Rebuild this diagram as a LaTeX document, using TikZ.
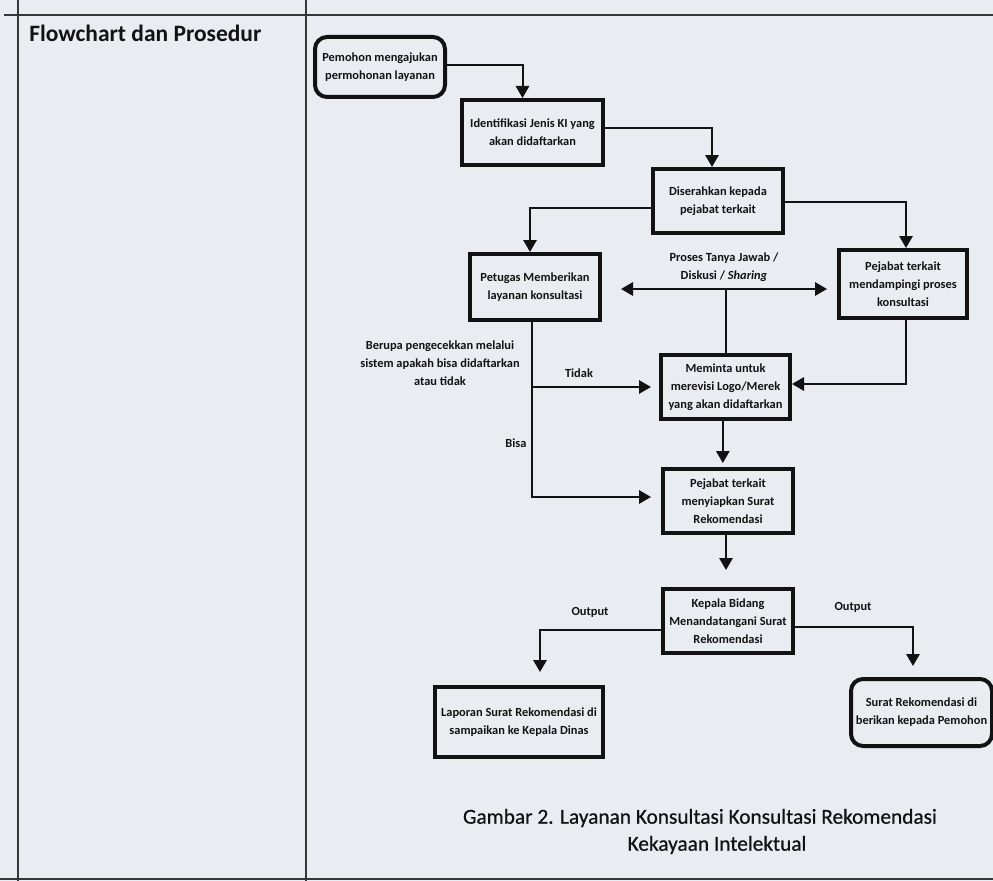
\documentclass[tikz,border=0pt]{standalone}
\usepackage{fontspec}
\setmainfont{Carlito}
\newfontfamily\capfont[FakeBold=0.6]{Carlito}
\usetikzlibrary{arrows.meta,calc}
\definecolor{paper}{RGB}{233,237,242}
\definecolor{ink}{RGB}{18,18,18}
\begin{document}
\begin{tikzpicture}[x=0.75pt,y=-0.75pt,
  box/.style={draw=ink, line width=3pt, fill=paper, align=center, text=ink,
    font=\fontsize{9.3}{13.5}\selectfont\bfseries, inner sep=1pt},
  rbox/.style={box, rounded corners=9pt},
  arr/.style={draw=ink, line width=1.5pt, -{Triangle[width=10pt,length=9pt]}},
  dbl/.style={draw=ink, line width=1.5pt, {Triangle[width=10pt,length=9pt]}-{Triangle[width=10pt,length=9pt]}},
  ln/.style={draw=ink, line width=1.5pt},
  lbl/.style={font=\fontsize{9.3}{13.5}\selectfont\bfseries, text=ink, align=center, inner sep=0pt},
  capstyle/.style={font=\capfont\fontsize{16}{19}\selectfont, text=ink, inner sep=0pt},
  framel/.style={draw=ink!85, line width=1.5pt}]

\fill[paper] (0,0) rectangle (993,881);
\useasboundingbox (0,0) rectangle (993,881);

% frame
\draw[framel] (4,15) -- (993,15);
\draw[framel] (18,0) -- (18,881);
\draw[framel] (306,0) -- (306,881);
\draw[framel] (0,879) -- (993,879);

\node[font=\fontsize{17.6}{21}\selectfont\bfseries, text=ink, anchor=west, inner sep=0pt] (title) at (29,33) {Flowchart dan Prosedur};

% boxes
\node[rbox, minimum width=97.5pt, minimum height=45pt] (n1) at (380,67) {Pemohon mengajukan\\permohonan layanan};
\node[box, minimum width=105.75pt, minimum height=48.75pt] (n2) at (532.5,132.5) {Identifikasi Jenis KI yang\\akan didaftarkan};
\node[box, minimum width=97.5pt, minimum height=48pt] (n3) at (718,201) {Diserahkan kepada\\pejabat terkait};
\node[box, minimum width=97.5pt, minimum height=49.5pt] (n4) at (535,287) {Petugas Memberikan\\layanan konsultasi};
\node[box, minimum width=96pt, minimum height=51pt] (n5) at (903,284) {Pejabat terkait\\mendampingi proses\\konsultasi};
\node[box, minimum width=96.75pt, minimum height=48pt] (n6) at (725.5,387) {Meminta untuk\\merevisi Logo/Merek\\yang akan didaftarkan};
\node[box, minimum width=97.5pt, minimum height=48pt] (n7) at (728,501) {Pejabat terkait\\menyiapkan Surat\\Rekomendasi};
\node[box, minimum width=97.5pt, minimum height=48pt] (n8) at (728,621) {Kepala Bidang\\Menandatangani Surat\\Rekomendasi};
\node[box, minimum width=126pt, minimum height=52.5pt] (n9) at (519,722) {Laporan Surat Rekomendasi di\\sampaikan ke Kepala Dinas};
\node[rbox, minimum width=105.75pt, minimum height=50.25pt] (n10) at (921.5,712.5) {Surat Rekomendasi di\\berikan kepada Pemohon};

% connectors
\draw[arr] ([yshift=1.5pt]n1.east) -| ([xshift=-7.5pt]n2.north);
\draw[arr] ([yshift=3pt]n2.east) -| ([xshift=-4.5pt]n3.north);
\draw[arr] ([yshift=-5pt]n3.west) -| ([xshift=-3.75pt]n4.north);
\draw[arr] ([yshift=-0.75pt]n3.east) -| ([xshift=2.25pt]n5.north);

\coordinate (dl) at ($(n4.east)+(19,2)$);
\coordinate (dr) at ($(n5.west)+(-10,5)$);
\draw[dbl] (dl) -- (dl -| dr);
\draw[ln] (dl -| n6.north) -- (n6.north);
\node[lbl] (qa) at (724,267) {Proses Tanya Jawab /\\Diskusi / \textit{Sharing}};

\coordinate (k) at ($(n4.south)+(-3,0)$);
\draw[arr, shorten >=7.5pt] (k) |- ([yshift=3pt]n7.west);
\draw[arr, shorten >=6pt] (k |- n6.west) -- (n6.west);
\draw[arr] ([xshift=2.25pt]n5.south) |- ([yshift=2.25pt]n6.east);
\draw[arr, shorten >=3pt] ([xshift=-2pt]n6.south) -- ([xshift=-2pt]n6.south |- n7.north);
\draw[arr, shorten >=12.75pt] ([xshift=-1.5pt]n7.south) -- ([xshift=-1.5pt]n7.south |- n8.north);
\draw[arr, shorten >=9.75pt] ([yshift=-6.75pt]n8.west) -| ([xshift=15.75pt]n9.north);
\draw[arr, shorten >=8.25pt] ([yshift=-4.5pt]n8.east) -| ([xshift=-6.4pt]n10.north);

% labels
\node[lbl] (chk) at (440,363) {Berupa pengecekkan melalui\\sistem apakah bisa didaftarkan\\atau tidak};
\node[lbl] (tidak) at (579,373) {Tidak};
\node[lbl] (bisa) at (516,443) {Bisa};
\node[lbl] (out1) at (590,612) {Output};
\node[lbl] (out2) at (853,607) {Output};

% caption
\node[capstyle] (cap1) at (700,818) {Gambar 2. Layanan Konsultasi Konsultasi Rekomendasi};
\node[capstyle] (cap2) at (717,845) {Kekayaan Intelektual};
\end{tikzpicture}
\end{document}
